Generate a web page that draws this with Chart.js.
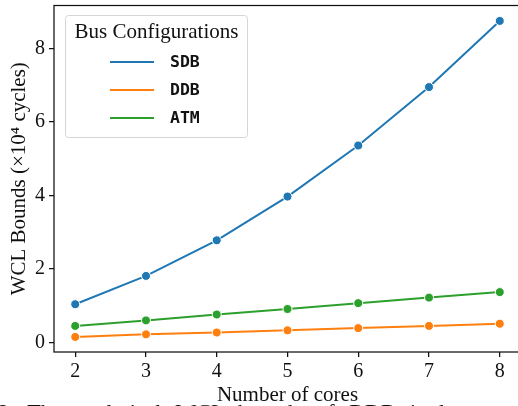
<!DOCTYPE html>
<html>
<head>
<meta charset="utf-8">
<script src="https://cdn.jsdelivr.net/npm/chart.js@4.4.0/dist/chart.umd.min.js"></script>
<style>
  html, body { margin: 0; padding: 0; background: #fff; width: 518px; height: 406px; overflow: hidden; }
  #wrap { position: relative; width: 518px; height: 406px; overflow: hidden; }
  canvas { position: absolute; left: 0; top: 0; }
  #caption { position: absolute; left: -4px; top: 401px; width: 540px; white-space: nowrap;
    font-family: "Liberation Serif", serif; font-size: 22px; line-height: 22px; word-spacing: 9px; color: #111; }
</style>
</head>
<body>
<div id="wrap">
  <canvas id="c" width="540" height="406"></canvas>
  <div id="caption">6: The analytical WCL bounds of DDB is lower</div>
</div>
<script>
const cores = [2, 3, 4, 5, 6, 7, 8];
const sdb = [1.04, 1.81, 2.78, 3.97, 5.36, 6.95, 8.75];
const ddb = [0.15, 0.22, 0.27, 0.33, 0.39, 0.45, 0.51];
const atm = [0.45, 0.60, 0.76, 0.91, 1.07, 1.22, 1.37];
const seriesNames = ['SDB', 'DDB', 'ATM'];
const xTicks = [2, 3, 4, 5, 6, 7, 8];
const yTicks = [0, 2, 4, 6, 8];

const colors = ['#1f77b4', '#ff7f0e', '#2ca02c'];
const serif = '"Liberation Serif", "DejaVu Serif", serif';

function mk(name, vals, col) {
  return {
    label: name,
    data: cores.map((c, i) => ({ x: c, y: vals[i] })),
    borderColor: col,
    backgroundColor: col,
    borderWidth: 2,
    pointRadius: 4.5,
    pointBorderColor: '#fff',
    pointBorderWidth: 1,
    pointBackgroundColor: col,
    tension: 0
  };
}

const framePlugin = {
  id: 'frame',
  afterDraw(chart) {
    const { ctx, chartArea: a } = chart;
    ctx.save();
    ctx.strokeStyle = '#111';
    ctx.lineWidth = 1.25;
    ctx.strokeRect(a.left, a.top, a.right - a.left, a.bottom - a.top);
    ctx.restore();
  }
};

const legendPlugin = {
  id: 'customLegend',
  afterDraw(chart) {
    const ctx = chart.ctx;
    ctx.save();
    const x = 65.5, y = 15.5, w = 182, h = 122;
    ctx.fillStyle = 'rgba(255,255,255,0.85)';
    ctx.strokeStyle = '#d6d6d6';
    ctx.lineWidth = 1;
    ctx.beginPath();
    ctx.roundRect(x, y, w, h, 3);
    ctx.fill();
    ctx.stroke();
    ctx.fillStyle = '#111';
    ctx.font = '21px ' + serif;
    ctx.textAlign = 'center';
    ctx.textBaseline = 'middle';
    ctx.fillText('Bus Configurations', x + w / 2, 32);
    ctx.font = 'bold 16.5px "DejaVu Sans Mono", "Liberation Mono", monospace';
    ctx.textAlign = 'left';
    chart.data.datasets.forEach((ds, i) => {
      const yy = 62 + i * 28;
      ctx.strokeStyle = ds.borderColor;
      ctx.lineWidth = 2;
      ctx.beginPath();
      ctx.moveTo(110, yy);
      ctx.lineTo(154, yy);
      ctx.stroke();
      ctx.fillStyle = '#111';
      ctx.fillText(ds.label, 170, yy + 1);
    });
    ctx.restore();
  }
};

new Chart(document.getElementById('c'), {
  type: 'line',
  data: {
    datasets: [
      mk(seriesNames[0], sdb, colors[0]),
      mk(seriesNames[1], ddb, colors[1]),
      mk(seriesNames[2], atm, colors[2])
    ]
  },
  options: {
    responsive: false,
    animation: false,
    layout: { padding: { top: 5, right: 19, left: 0, bottom: 0 } },
    plugins: { legend: { display: false }, tooltip: { enabled: false } },
    scales: {
      x: {
        type: 'linear',
        min: 1.7,
        max: 8.3,
        afterBuildTicks(s) { s.ticks = xTicks.map(v => ({ value: v })); },
        afterFit(s) { s.height = 54; s.paddingLeft = 0; s.paddingRight = 0; },
        grid: { drawOnChartArea: false, drawTicks: true, tickLength: 5, color: '#111', lineWidth: 1.25 },
        border: { display: false },
        ticks: { color: '#111', font: { family: serif, size: 20 }, padding: 3, maxRotation: 0 },
        title: { display: true, text: 'Number of cores', color: '#111', font: { family: serif, size: 21, lineHeight: 1.0 }, padding: { top: 0, bottom: 0 } }
      },
      y: {
        type: 'linear',
        min: -0.26,
        max: 9.17,
        afterBuildTicks(s) { s.ticks = yTicks.map(v => ({ value: v })); },
        afterFit(s) { s.width = 54; s.paddingTop = 0; s.paddingBottom = 0; },
        grid: { drawOnChartArea: false, drawTicks: true, tickLength: 5, color: '#111', lineWidth: 1.25 },
        border: { display: false },
        ticks: { color: '#111', font: { family: serif, size: 20 }, padding: 4 },
        title: { display: true, text: 'WCL Bounds (×10⁴ cycles)', color: '#111', font: { family: serif, size: 21 }, padding: { top: 7, bottom: 0 } }
      }
    }
  },
  plugins: [framePlugin, legendPlugin]
});
</script>
</body>
</html>
